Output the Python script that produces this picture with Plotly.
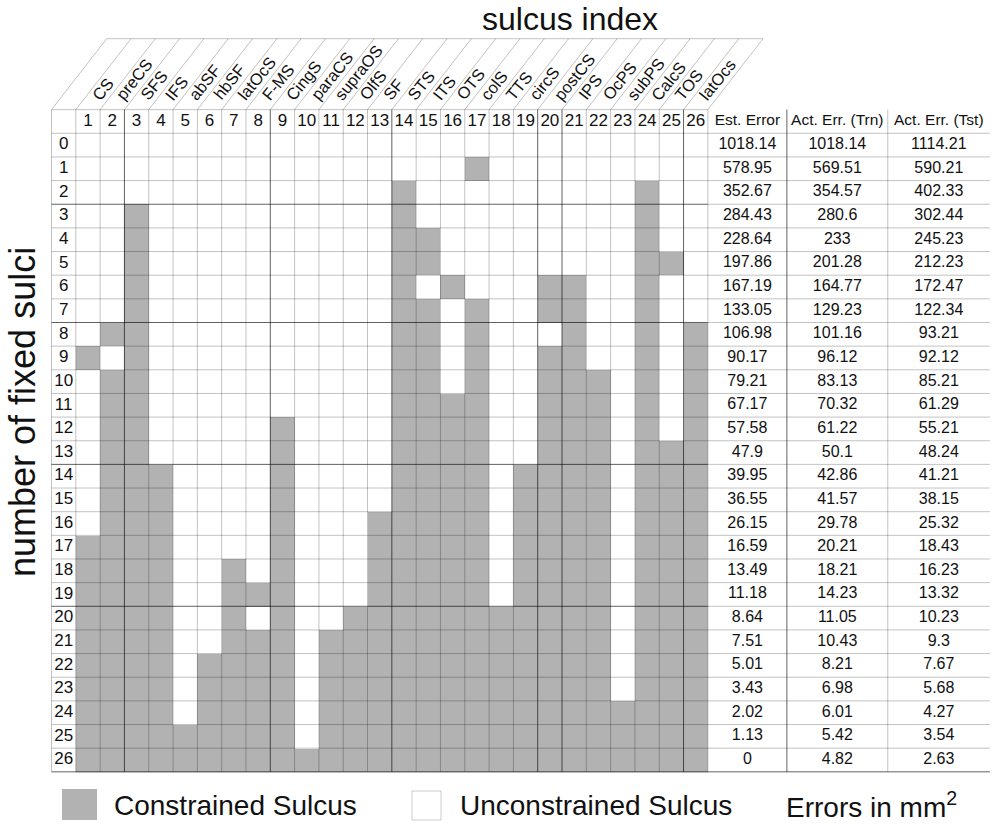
import plotly.graph_objects as go

# ---- data -------------------------------------------------------------
sulcus_index = list(range(1, 27))
sulcus_names = ["CS", "preCS", "SFS", "IFS", "abSF", "hbSF", "latOcS", "F-MS",
                "CingS", "paraCS", "supraOS", "OlfS", "SF", "STS", "ITS", "OTS",
                "colS", "TTS", "circS", "postCS", "IPS", "OcPS", "subPS", "CalcS",
                "TOS", "latOcs"]
fixed_counts = list(range(0, 27))

# sulci (by index) that are constrained for each number of fixed sulci
constrained = [
    [],
    [17],
    [14, 24],
    [3, 14, 24],
    [3, 14, 15, 24],
    [3, 14, 15, 24, 25],
    [3, 14, 16, 20, 21, 24],
    [3, 14, 15, 17, 20, 21, 24],
    [2, 3, 14, 15, 17, 21, 24, 26],
    [1, 3, 14, 15, 17, 20, 21, 24, 26],
    [2, 3, 14, 15, 17, 20, 21, 22, 24, 26],
    [2, 3, 14, 15, 16, 17, 20, 21, 22, 24, 26],
    [2, 3, 9, 14, 15, 16, 17, 20, 21, 22, 24, 26],
    [2, 3, 9, 14, 15, 16, 17, 20, 21, 22, 24, 25, 26],
    [2, 3, 4, 9, 14, 15, 16, 17, 19, 20, 21, 22, 24, 25, 26],
    [2, 3, 4, 9, 14, 15, 16, 17, 19, 20, 21, 22, 24, 25, 26],
    [2, 3, 4, 9, 13, 14, 15, 16, 17, 19, 20, 21, 22, 24, 25, 26],
    [1, 2, 3, 4, 9, 13, 14, 15, 16, 17, 19, 20, 21, 22, 24, 25, 26],
    [1, 2, 3, 4, 7, 9, 13, 14, 15, 16, 17, 19, 20, 21, 22, 24, 25, 26],
    [1, 2, 3, 4, 7, 8, 9, 13, 14, 15, 16, 17, 19, 20, 21, 22, 24, 25, 26],
    [1, 2, 3, 4, 7, 9, 12, 13, 14, 15, 16, 17, 18, 19, 20, 21, 22, 24, 25, 26],
    [1, 2, 3, 4, 7, 8, 9, 11, 12, 13, 14, 15, 16, 17, 18, 19, 20, 21, 22, 24, 25, 26],
    [1, 2, 3, 4, 6, 7, 8, 9, 11, 12, 13, 14, 15, 16, 17, 18, 19, 20, 21, 22, 24, 25, 26],
    [1, 2, 3, 4, 6, 7, 8, 9, 11, 12, 13, 14, 15, 16, 17, 18, 19, 20, 21, 22, 24, 25, 26],
    [1, 2, 3, 4, 6, 7, 8, 9, 11, 12, 13, 14, 15, 16, 17, 18, 19, 20, 21, 22, 23, 24, 25, 26],
    [1, 2, 3, 4, 5, 6, 7, 8, 9, 11, 12, 13, 14, 15, 16, 17, 18, 19, 20, 21, 22, 23, 24, 25, 26],
    list(range(1, 27)),
]

table_headers = ["Est. Error", "Act. Err. (Trn)", "Act. Err. (Tst)"]
est_error = [1018.14, 578.95, 352.67, 284.43, 228.64, 197.86, 167.19, 133.05, 106.98,
             90.17, 79.21, 67.17, 57.58, 47.9, 39.95, 36.55, 26.15, 16.59, 13.49,
             11.18, 8.64, 7.51, 5.01, 3.43, 2.02, 1.13, 0]
act_err_trn = [1018.14, 569.51, 354.57, 280.6, 233, 201.28, 164.77, 129.23, 101.16,
               96.12, 83.13, 70.32, 61.22, 50.1, 42.86, 41.57, 29.78, 20.21, 18.21,
               14.23, 11.05, 10.43, 8.21, 6.98, 6.01, 5.42, 4.82]
act_err_tst = [1114.21, 590.21, 402.33, 302.44, 245.23, 212.23, 172.47, 122.34, 93.21,
               92.12, 85.21, 61.29, 55.21, 48.24, 41.21, 38.15, 25.32, 18.43, 16.23,
               13.32, 10.23, 9.3, 7.67, 5.68, 4.27, 3.54, 2.63]

# ---- styling ----------------------------------------------------------
FONT = "Liberation Sans, Arial, Helvetica, sans-serif"
GRAY = "#b2b2b2"
LIGHT = "rgba(0,0,0,0.24)"
DARK = "rgba(0,0,0,0.62)"
TXT = "#111111"

# table geometry in axis units (one sulcus column = one x unit, one row = one y unit)
HEAD_TOP = -1.5
GRID_LEFT, GRID_RIGHT = -0.5, 26.5
COL_EDGES = [26.5, 29.75, 33.9, 38.1]       # numeric columns
COL_CENTERS = [(COL_EDGES[i] + COL_EDGES[i + 1]) / 2 for i in range(3)]
BOTTOM = 26.5
SLANT_DX, SLANT_TOP = 2.27, -4.5
DARK_V = {2.5, 8.5, 13.5, 19.5, 20.5, 25.5}
DARK_H = {2.5, 7.5, 13.5, 19.5, 26.5}

z = [[1 if c in constrained[r] else 0 for c in sulcus_index] for r in fixed_counts]

fig = go.Figure()
fig.add_trace(go.Heatmap(
    z=z, x=sulcus_index, y=fixed_counts,
    colorscale=[[0, "#ffffff"], [1, GRAY]], zmin=0, zmax=1,
    showscale=False, hoverinfo="skip",
))

index_font = dict(family=FONT, size=17, color=TXT)
value_font = dict(family=FONT, size=16, color=TXT)
header_font = dict(family=FONT, size=15.5, color=TXT)
# row labels
fig.add_trace(go.Scatter(x=[0] * len(fixed_counts), y=fixed_counts, mode="text",
                         text=[str(r) for r in fixed_counts], textfont=index_font,
                         hoverinfo="skip"))
# column numbers
fig.add_trace(go.Scatter(x=sulcus_index, y=[-1] * len(sulcus_index), mode="text",
                         text=[str(c) for c in sulcus_index], textfont=index_font,
                         hoverinfo="skip"))
# numeric table headers and values
fig.add_trace(go.Scatter(x=COL_CENTERS, y=[-1] * 3, mode="text", text=table_headers,
                         textfont=header_font, hoverinfo="skip"))
for cx, vals in zip(COL_CENTERS, [est_error, act_err_trn, act_err_tst]):
    fig.add_trace(go.Scatter(x=[cx] * len(vals), y=fixed_counts, mode="text",
                             text=[f"{v:g}" for v in vals], textfont=value_font,
                             hoverinfo="skip"))

shapes = []


def line(x0, y0, x1, y1, color, width=1):
    shapes.append(dict(type="line", xref="x", yref="y", x0=x0, y0=y0, x1=x1, y1=y1,
                       line=dict(color=color, width=width), layer="above"))


# horizontal rules
line(GRID_LEFT, HEAD_TOP, GRID_RIGHT, HEAD_TOP, LIGHT)
for k in range(0, 28):
    y = k - 0.5
    if y in DARK_H:
        line(GRID_LEFT, y, GRID_RIGHT, y, DARK)
        line(GRID_RIGHT, y, COL_EDGES[-1], y, LIGHT if y != BOTTOM else DARK)
    else:
        line(GRID_LEFT, y, COL_EDGES[-1], y, LIGHT)

# vertical rules of the sulcus grid
for k in range(0, 28):
    x = k - 0.5
    line(x, HEAD_TOP, x, BOTTOM, DARK if x in DARK_V else LIGHT)
# vertical rules of the error columns
line(COL_EDGES[1], HEAD_TOP, COL_EDGES[1], BOTTOM, DARK)
line(COL_EDGES[2], HEAD_TOP, COL_EDGES[2], BOTTOM, LIGHT)

# slanted header strips
for k in range(0, 28):
    x = k - 0.5
    line(x, HEAD_TOP, x + SLANT_DX, SLANT_TOP, LIGHT)
line(GRID_LEFT + SLANT_DX, SLANT_TOP, GRID_RIGHT + SLANT_DX, SLANT_TOP, LIGHT)

annotations = []
for c, name in zip(sulcus_index, sulcus_names):
    annotations.append(dict(
        x=c - 0.1, y=HEAD_TOP - 0.15, xref="x", yref="y", text=name,
        showarrow=False, textangle=-51, xanchor="left", yanchor="bottom",
        font=dict(family=FONT, size=16.5, color=TXT),
    ))

# titles
annotations.append(dict(x=570 / 995, y=1 - 19 / 825, xref="paper", yref="paper",
                        text="sulcus index", showarrow=False,
                        xanchor="center", yanchor="middle",
                        font=dict(family=FONT, size=32, color=TXT)))
annotations.append(dict(x=22 / 995, y=1 - 412 / 825, xref="paper", yref="paper",
                        text="number of fixed sulci", showarrow=False, textangle=-90,
                        xanchor="center", yanchor="middle",
                        font=dict(family=FONT, size=36, color=TXT)))

# legend
legend_font = dict(family=FONT, size=28, color=TXT)
shapes.append(dict(type="rect", xref="paper", yref="paper",
                   x0=62 / 995, x1=97 / 995, y0=1 - 820 / 825, y1=1 - 789 / 825,
                   fillcolor=GRAY, line=dict(width=0)))
shapes.append(dict(type="rect", xref="paper", yref="paper",
                   x0=412 / 995, x1=441 / 995, y0=1 - 820 / 825, y1=1 - 791 / 825,
                   fillcolor="#ffffff", line=dict(color="rgba(0,0,0,0.2)", width=1)))
for lx, label in [(112, "Constrained Sulcus"), (458, "Unconstrained Sulcus"),
                  (784, "Errors in mm<sup>2</sup>")]:
    annotations.append(dict(x=lx / 995, y=1 - 805 / 825, xref="paper", yref="paper",
                            text=label, showarrow=False,
                            xanchor="left", yanchor="middle", font=legend_font))

fig.update_layout(
    width=995, height=825, autosize=False,
    margin=dict(l=0, r=0, t=0, b=0),
    paper_bgcolor="white", plot_bgcolor="white",
    showlegend=False,
    xaxis=dict(range=[-2.6185, 38.311], visible=False, fixedrange=True),
    yaxis=dict(range=[28.748, -6.136], visible=False, fixedrange=True),
    shapes=shapes, annotations=annotations,
)

fig.write_html("out.html")
